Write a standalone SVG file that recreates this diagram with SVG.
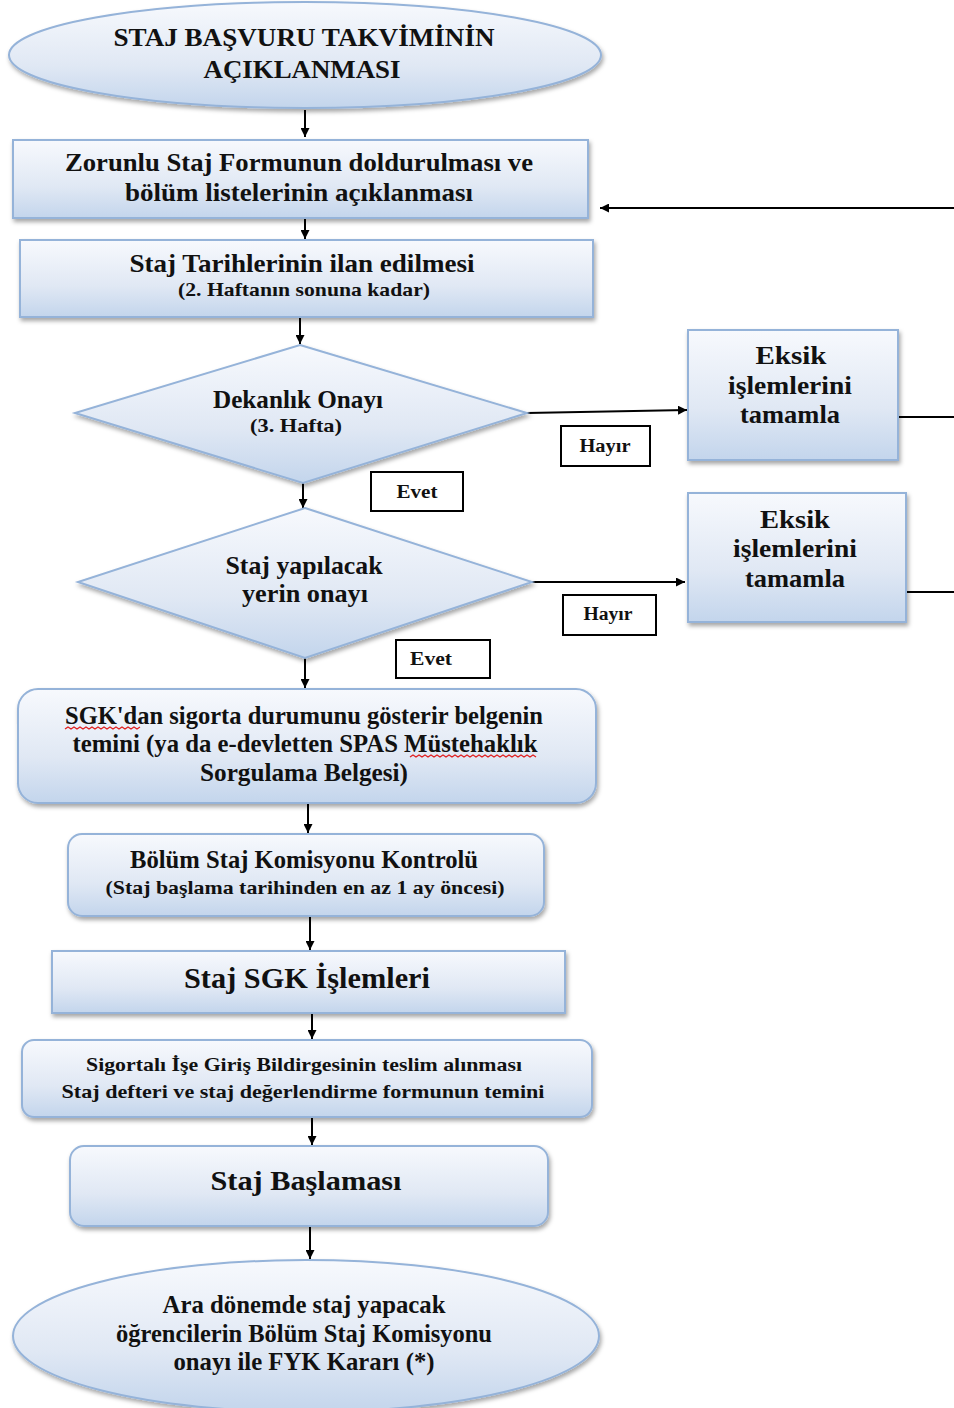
<svg xmlns="http://www.w3.org/2000/svg" width="954" height="1408" viewBox="0 0 954 1408">
<defs>
<linearGradient id="g" x1="0" y1="0" x2="0" y2="1">
<stop offset="0" stop-color="#f7f9fd"/>
<stop offset="0.6" stop-color="#e0e8f4"/>
<stop offset="1" stop-color="#c3d5ec"/>
</linearGradient>
<filter id="sh" x="-10%" y="-10%" width="120%" height="130%">
<feDropShadow dx="1.5" dy="3" stdDeviation="2" flood-color="#000" flood-opacity="0.35"/>
</filter>
<marker id="ah" viewBox="0 0 10 10" refX="10" refY="5" markerWidth="9" markerHeight="9" markerUnits="userSpaceOnUse" orient="auto">
<path d="M0,0 L10,5 L0,10 z" fill="#000"/>
</marker>
<style>
.n{fill:url(#g);stroke:#95b3d9;stroke-width:2;filter:url(#sh)}
.lb{fill:#fff;stroke:#000;stroke-width:2}
.t{font-family:"Liberation Serif","Times New Roman",serif;font-weight:bold;fill:#111;text-anchor:middle}
.c{stroke:#000;stroke-width:2;fill:none}
.w{stroke:#e02020;stroke-width:1.3;fill:none}
</style>
</defs>

<g id="connectors">
<line class="c" x1="305" y1="110" x2="305" y2="137" marker-end="url(#ah)"/>
<line class="c" x1="305" y1="218" x2="305" y2="239" marker-end="url(#ah)"/>
<line class="c" x1="300" y1="318" x2="300" y2="344" marker-end="url(#ah)"/>
<line class="c" x1="527" y1="413" x2="687" y2="410" marker-end="url(#ah)"/>
<line class="c" x1="303" y1="483" x2="303" y2="508" marker-end="url(#ah)"/>
<line class="c" x1="532" y1="582" x2="685" y2="582" marker-end="url(#ah)"/>
<line class="c" x1="305" y1="658" x2="305" y2="688" marker-end="url(#ah)"/>
<line class="c" x1="308" y1="804" x2="308" y2="833" marker-end="url(#ah)"/>
<line class="c" x1="310" y1="917" x2="310" y2="950" marker-end="url(#ah)"/>
<line class="c" x1="312" y1="1014" x2="312" y2="1039" marker-end="url(#ah)"/>
<line class="c" x1="312" y1="1118" x2="312" y2="1145" marker-end="url(#ah)"/>
<line class="c" x1="310" y1="1227" x2="310" y2="1259" marker-end="url(#ah)"/>
<line class="c" x1="898" y1="417" x2="954" y2="417"/>
<line class="c" x1="906" y1="592" x2="954" y2="592"/>
<line class="c" x1="954" y1="208" x2="600" y2="208" marker-end="url(#ah)"/>
</g>

<g id="start">
<ellipse class="n" cx="305" cy="55" rx="296" ry="53"/>
<text class="t" x="304" y="46" font-size="26" textLength="381" lengthAdjust="spacingAndGlyphs">STAJ BAŞVURU TAKVİMİNİN</text>
<text class="t" x="302" y="78" font-size="26" textLength="197" lengthAdjust="spacingAndGlyphs">AÇIKLANMASI</text>
</g>

<g id="form">
<rect class="n" x="13" y="140" width="575" height="78"/>
<text class="t" x="299" y="171" font-size="26" textLength="468" lengthAdjust="spacingAndGlyphs">Zorunlu Staj Formunun doldurulması ve</text>
<text class="t" x="299" y="201" font-size="26" textLength="348" lengthAdjust="spacingAndGlyphs">bölüm listelerinin açıklanması</text>
</g>

<g id="tarih">
<rect class="n" x="20" y="240" width="573" height="77"/>
<text class="t" x="302" y="272" font-size="26" textLength="345" lengthAdjust="spacingAndGlyphs">Staj Tarihlerinin ilan edilmesi</text>
<text class="t" x="304" y="296" font-size="19" textLength="252" lengthAdjust="spacingAndGlyphs">(2. Haftanın sonuna kadar)</text>
</g>

<g id="dekanlik">
<polygon class="n" points="300,345 527,413 303,483 75,413"/>
<text class="t" x="298" y="408" font-size="26" textLength="170" lengthAdjust="spacingAndGlyphs">Dekanlık Onayı</text>
<text class="t" x="296" y="432" font-size="19" textLength="92" lengthAdjust="spacingAndGlyphs">(3. Hafta)</text>
</g>

<g id="eksik1">
<rect class="n" x="688" y="330" width="210" height="130"/>
<text class="t" x="791" y="364" font-size="26" textLength="71" lengthAdjust="spacingAndGlyphs">Eksik</text>
<text class="t" x="790" y="394" font-size="26" textLength="124" lengthAdjust="spacingAndGlyphs">işlemlerini</text>
<text class="t" x="790" y="423" font-size="26" textLength="100" lengthAdjust="spacingAndGlyphs">tamamla</text>
</g>

<g id="hayir1">
<rect class="lb" x="561" y="426" width="89" height="40"/>
<text class="t" x="605" y="452" font-size="18" textLength="51" lengthAdjust="spacingAndGlyphs">Hayır</text>
</g>

<g id="evet1">
<rect class="lb" x="371" y="472" width="92" height="39"/>
<text class="t" x="417" y="498" font-size="18" textLength="41" lengthAdjust="spacingAndGlyphs">Evet</text>
</g>

<g id="yer">
<polygon class="n" points="305,508 532,582 305,658 78,582"/>
<text class="t" x="304" y="574" font-size="26" textLength="157" lengthAdjust="spacingAndGlyphs">Staj yapılacak</text>
<text class="t" x="305" y="602" font-size="26" textLength="126" lengthAdjust="spacingAndGlyphs">yerin onayı</text>
</g>

<g id="eksik2">
<rect class="n" x="688" y="493" width="218" height="129"/>
<text class="t" x="795" y="528" font-size="26" textLength="70" lengthAdjust="spacingAndGlyphs">Eksik</text>
<text class="t" x="795" y="557" font-size="26" textLength="124" lengthAdjust="spacingAndGlyphs">işlemlerini</text>
<text class="t" x="795" y="587" font-size="26" textLength="100" lengthAdjust="spacingAndGlyphs">tamamla</text>
</g>

<g id="hayir2">
<rect class="lb" x="563" y="595" width="93" height="40"/>
<text class="t" x="608" y="620" font-size="18" textLength="49" lengthAdjust="spacingAndGlyphs">Hayır</text>
</g>

<g id="evet2">
<rect class="lb" x="396" y="640" width="94" height="38"/>
<text class="t" x="431" y="665" font-size="18" textLength="42" lengthAdjust="spacingAndGlyphs">Evet</text>
</g>

<g id="sgk">
<rect class="n" x="18" y="689" width="578" height="114" rx="20"/>
<text class="t" x="304" y="724" font-size="26" textLength="478" lengthAdjust="spacingAndGlyphs">SGK'dan sigorta durumunu gösterir belgenin</text>
<text class="t" x="305" y="752" font-size="26" textLength="465" lengthAdjust="spacingAndGlyphs">temini (ya da e-devletten SPAS Müstehaklık</text>
<text class="t" x="304" y="781" font-size="26" textLength="208" lengthAdjust="spacingAndGlyphs">Sorgulama Belgesi)</text>
<path class="w" d="M65,729 l3,-2 l3,2 l3,-2 l3,2 l3,-2 l3,2 l3,-2 l3,2 l3,-2 l3,2 l3,-2 l3,2 l3,-2 l3,2 l3,-2 l3,2 l3,-2 l3,2 l3,-2 l3,2 l3,-2 l3,2 l3,-2 l3,2 l3,-2"/>
<path class="w" d="M410,757 l3,-2 l3,2 l3,-2 l3,2 l3,-2 l3,2 l3,-2 l3,2 l3,-2 l3,2 l3,-2 l3,2 l3,-2 l3,2 l3,-2 l3,2 l3,-2 l3,2 l3,-2 l3,2 l3,-2 l3,2 l3,-2 l3,2 l3,-2 l3,2 l3,-2 l3,2 l3,-2 l3,2 l3,-2 l3,2 l3,-2 l3,2 l3,-2 l3,2 l3,-2 l3,2 l3,-2 l3,2 l3,-2 l3,2"/>
</g>

<g id="komisyon">
<rect class="n" x="68" y="834" width="476" height="82" rx="14"/>
<text class="t" x="304" y="868" font-size="26" textLength="348" lengthAdjust="spacingAndGlyphs">Bölüm Staj Komisyonu Kontrolü</text>
<text class="t" x="305" y="894" font-size="19" textLength="399" lengthAdjust="spacingAndGlyphs">(Staj başlama tarihinden en az 1 ay öncesi)</text>
</g>

<g id="sgkislem">
<rect class="n" x="52" y="951" width="513" height="62"/>
<text class="t" x="307" y="988" font-size="30" textLength="246" lengthAdjust="spacingAndGlyphs">Staj SGK İşlemleri</text>
</g>

<g id="bildirge">
<rect class="n" x="22" y="1040" width="570" height="77" rx="12"/>
<text class="t" x="304" y="1071" font-size="19" textLength="436" lengthAdjust="spacingAndGlyphs">Sigortalı İşe Giriş Bildirgesinin  teslim alınması</text>
<text class="t" x="303" y="1098" font-size="19" textLength="483" lengthAdjust="spacingAndGlyphs">Staj defteri ve staj değerlendirme formunun temini</text>
</g>

<g id="baslama">
<rect class="n" x="70" y="1146" width="478" height="80" rx="14"/>
<text class="t" x="306" y="1190" font-size="28" textLength="191" lengthAdjust="spacingAndGlyphs">Staj Başlaması</text>
</g>

<g id="end">
<ellipse class="n" cx="306" cy="1336" rx="293" ry="76"/>
<text class="t" x="304" y="1313" font-size="25" textLength="283" lengthAdjust="spacingAndGlyphs">Ara dönemde staj yapacak</text>
<text class="t" x="304" y="1342" font-size="25" textLength="376" lengthAdjust="spacingAndGlyphs">öğrencilerin Bölüm Staj Komisyonu</text>
<text class="t" x="304" y="1370" font-size="25" textLength="261" lengthAdjust="spacingAndGlyphs">onayı ile FYK Kararı (*)</text>
</g>
</svg>
